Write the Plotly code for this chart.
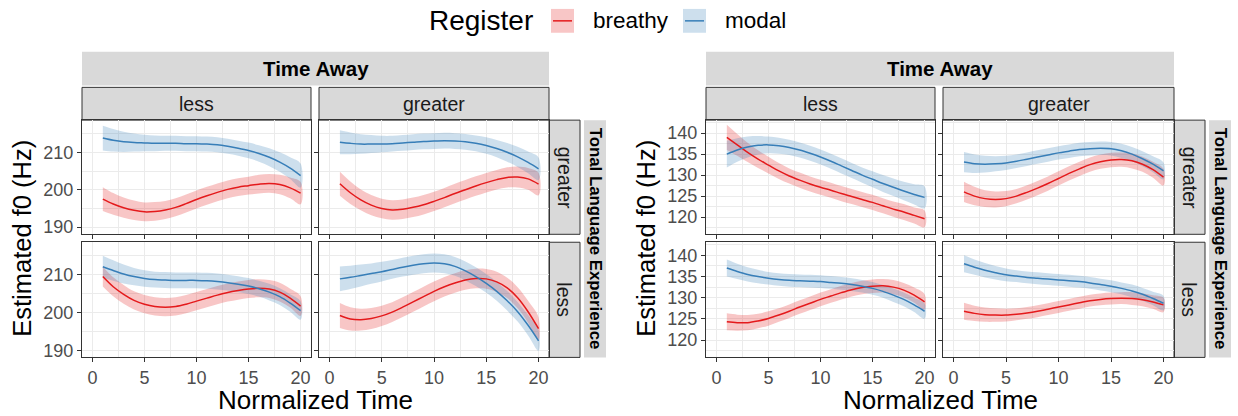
import plotly.graph_objects as go

# ---------------- data ----------------
time = list(range(1, 21))
xticks = [0, 5, 10, 15, 20]
left_yticks = [190, 200, 210]
right_yticks = [120, 125, 130, 135, 140]
col_labels = ["less", "greater"]          # Time Away
row_labels = ["greater", "less"]          # Tonal Language Experience
registers = ["breathy", "modal"]

# Left chart (higher f0)  --- row: TLE greater / less, col: Time Away less / greater
L_gl_breathy = [197.5, 196.2, 195.2, 194.5, 194.1, 194.2, 194.6, 195.3, 196.3, 197.4, 198.4, 199.3, 200.1, 200.7, 201.1, 201.5, 201.7, 201.4, 200.5, 199.1]
L_gl_breathy_se = [3.2, 2.9, 2.7, 2.6, 2.5, 2.5, 2.4, 2.4, 2.4, 2.4, 2.4, 2.4, 2.4, 2.4, 2.4, 2.5, 2.5, 2.6, 2.8, 3.0]
L_gl_modal = [213.8, 213.2, 212.8, 212.6, 212.5, 212.4, 212.4, 212.4, 212.3, 212.3, 212.2, 212.0, 211.6, 211.1, 210.5, 209.7, 208.7, 207.4, 205.8, 203.8]
L_gl_modal_se = [3.3, 3.0, 2.7, 2.4, 2.2, 2.1, 2.0, 2.0, 2.0, 2.0, 2.0, 2.0, 2.0, 2.0, 2.1, 2.2, 2.4, 2.6, 2.9, 3.2]

L_gg_breathy = [201.6, 199.2, 197.3, 195.9, 195.0, 194.6, 194.8, 195.3, 196.0, 196.9, 197.9, 199.0, 200.0, 201.0, 201.9, 202.7, 203.3, 203.4, 202.9, 201.5]
L_gg_breathy_se = [3.2, 3.0, 2.8, 2.7, 2.6, 2.6, 2.6, 2.6, 2.6, 2.6, 2.6, 2.6, 2.6, 2.6, 2.6, 2.6, 2.7, 2.8, 2.9, 3.0]
L_gg_modal = [212.7, 212.4, 212.2, 212.2, 212.2, 212.3, 212.5, 212.7, 212.9, 213.0, 213.1, 213.0, 212.8, 212.4, 211.8, 211.0, 210.0, 208.8, 207.3, 205.6]
L_gg_modal_se = [3.2, 2.9, 2.6, 2.4, 2.2, 2.1, 2.1, 2.1, 2.1, 2.1, 2.1, 2.1, 2.1, 2.1, 2.2, 2.3, 2.5, 2.7, 2.9, 3.0]

L_ll_breathy = [209.5, 206.8, 204.8, 203.2, 202.2, 201.6, 201.4, 201.6, 202.2, 203.0, 203.8, 204.6, 205.3, 205.8, 206.2, 206.4, 206.2, 205.4, 203.8, 201.7]
L_ll_breathy_se = [2.6, 2.5, 2.5, 2.4, 2.4, 2.4, 2.4, 2.4, 2.4, 2.4, 2.4, 2.4, 2.4, 2.4, 2.4, 2.4, 2.4, 2.5, 2.5, 2.6]
L_ll_modal = [212.1, 211.1, 210.2, 209.5, 209.0, 208.7, 208.6, 208.5, 208.5, 208.5, 208.4, 208.2, 207.9, 207.5, 207.0, 206.3, 205.4, 204.2, 202.5, 200.5]
L_ll_modal_se = [2.9, 2.7, 2.5, 2.3, 2.2, 2.1, 2.1, 2.1, 2.1, 2.1, 2.1, 2.1, 2.1, 2.1, 2.1, 2.1, 2.2, 2.2, 2.3, 2.4]

L_lg_breathy = [199.2, 198.3, 198.1, 198.4, 199.1, 200.1, 201.4, 202.8, 204.2, 205.6, 206.8, 207.8, 208.6, 209.0, 208.9, 208.1, 206.5, 203.9, 200.2, 195.7]
L_lg_breathy_se = [3.3, 3.1, 2.9, 2.8, 2.7, 2.6, 2.6, 2.6, 2.6, 2.6, 2.6, 2.6, 2.6, 2.6, 2.6, 2.7, 2.7, 2.8, 2.9, 3.0]
L_lg_modal = [208.9, 209.3, 209.8, 210.3, 210.8, 211.4, 212.0, 212.5, 212.9, 213.1, 212.9, 212.2, 211.0, 209.5, 207.7, 205.6, 203.1, 200.2, 196.6, 192.5]
L_lg_modal_se = [3.3, 3.1, 2.9, 2.7, 2.6, 2.5, 2.5, 2.5, 2.5, 2.5, 2.5, 2.5, 2.5, 2.5, 2.5, 2.5, 2.6, 2.6, 2.7, 2.7]

# Right chart (lower f0)
R_gl_breathy = [139.0, 137.2, 135.4, 133.8, 132.4, 131.0, 129.8, 128.8, 127.9, 127.1, 126.4, 125.6, 124.9, 124.2, 123.5, 122.7, 121.9, 121.2, 120.4, 119.6]
R_gl_breathy_se = [3.0, 2.6, 2.3, 2.1, 2.0, 1.9, 1.8, 1.8, 1.8, 1.8, 1.8, 1.8, 1.8, 1.8, 1.8, 1.8, 1.8, 1.9, 1.9, 2.0]
R_gl_modal = [135.0, 136.0, 136.7, 137.1, 137.2, 137.0, 136.6, 136.0, 135.2, 134.3, 133.3, 132.2, 131.1, 130.0, 129.0, 128.0, 127.1, 126.2, 125.4, 124.7]
R_gl_modal_se = [3.2, 2.8, 2.5, 2.2, 2.0, 1.9, 1.8, 1.8, 1.8, 1.8, 1.8, 1.8, 1.8, 1.8, 1.9, 2.0, 2.1, 2.2, 2.4, 2.6]

R_gg_breathy = [126.0, 125.0, 124.4, 124.2, 124.4, 125.0, 125.9, 126.9, 128.0, 129.2, 130.4, 131.5, 132.5, 133.2, 133.6, 133.7, 133.4, 132.6, 131.3, 129.5]
R_gg_breathy_se = [2.4, 2.2, 2.0, 1.9, 1.8, 1.7, 1.7, 1.7, 1.7, 1.7, 1.7, 1.7, 1.7, 1.7, 1.7, 1.7, 1.8, 1.8, 1.9, 2.0]
R_gg_modal = [133.1, 132.7, 132.6, 132.7, 132.9, 133.3, 133.8, 134.3, 134.8, 135.3, 135.7, 136.1, 136.3, 136.4, 136.3, 135.8, 135.0, 133.9, 132.6, 131.0]
R_gg_modal_se = [2.4, 2.2, 2.0, 1.8, 1.7, 1.6, 1.6, 1.6, 1.6, 1.6, 1.6, 1.6, 1.6, 1.6, 1.6, 1.7, 1.7, 1.8, 1.9, 2.0]

R_ll_breathy = [124.3, 124.1, 124.1, 124.5, 125.1, 125.9, 126.8, 127.8, 128.7, 129.6, 130.4, 131.2, 131.9, 132.4, 132.7, 132.8, 132.5, 131.8, 130.6, 129.0]
R_ll_breathy_se = [2.0, 1.9, 1.8, 1.7, 1.7, 1.6, 1.6, 1.6, 1.6, 1.6, 1.6, 1.6, 1.6, 1.6, 1.6, 1.6, 1.7, 1.7, 1.8, 1.8]
R_ll_modal = [137.0, 136.2, 135.5, 135.0, 134.6, 134.3, 134.1, 134.0, 133.9, 133.8, 133.6, 133.4, 133.1, 132.7, 132.2, 131.5, 130.6, 129.6, 128.3, 126.8]
R_ll_modal_se = [2.0, 1.8, 1.7, 1.6, 1.5, 1.5, 1.5, 1.5, 1.5, 1.5, 1.5, 1.5, 1.5, 1.5, 1.5, 1.5, 1.6, 1.6, 1.7, 1.8]

R_lg_breathy = [126.8, 126.3, 126.0, 125.9, 125.9, 126.1, 126.4, 126.8, 127.3, 127.8, 128.3, 128.8, 129.3, 129.6, 129.8, 129.9, 129.8, 129.5, 129.0, 128.3]
R_lg_breathy_se = [2.0, 1.8, 1.7, 1.6, 1.5, 1.4, 1.4, 1.4, 1.4, 1.4, 1.4, 1.4, 1.4, 1.4, 1.4, 1.4, 1.5, 1.5, 1.6, 1.7]
R_lg_modal = [138.0, 137.2, 136.5, 135.9, 135.4, 135.1, 134.8, 134.6, 134.4, 134.2, 134.0, 133.8, 133.5, 133.1, 132.7, 132.2, 131.6, 130.8, 129.8, 128.7]
R_lg_modal_se = [2.0, 1.8, 1.7, 1.6, 1.5, 1.4, 1.4, 1.4, 1.4, 1.4, 1.4, 1.4, 1.4, 1.4, 1.4, 1.4, 1.5, 1.5, 1.6, 1.7]

# (chart, row, col) -> series
panels = [
    ("L", 0, 0, L_gl_breathy, L_gl_breathy_se, L_gl_modal, L_gl_modal_se),
    ("L", 0, 1, L_gg_breathy, L_gg_breathy_se, L_gg_modal, L_gg_modal_se),
    ("L", 1, 0, L_ll_breathy, L_ll_breathy_se, L_ll_modal, L_ll_modal_se),
    ("L", 1, 1, L_lg_breathy, L_lg_breathy_se, L_lg_modal, L_lg_modal_se),
    ("R", 0, 0, R_gl_breathy, R_gl_breathy_se, R_gl_modal, R_gl_modal_se),
    ("R", 0, 1, R_gg_breathy, R_gg_breathy_se, R_gg_modal, R_gg_modal_se),
    ("R", 1, 0, R_ll_breathy, R_ll_breathy_se, R_ll_modal, R_ll_modal_se),
    ("R", 1, 1, R_lg_breathy, R_lg_breathy_se, R_lg_modal, R_lg_modal_se),
]

# ---------------- style / layout ----------------
W, H = 1238, 416
FONT = "Liberation Sans, Arial, Helvetica, sans-serif"
RED, BLUE = "#E41A1C", "#377EB8"
RED_F, BLUE_F = "rgba(228,26,28,0.25)", "rgba(55,126,184,0.25)"
STRIP = "#d9d9d9"
DARK = "#333333"
GRID = "#ebebeb"
TICKF = 18

col_px = {"L": [(82, 311), (319, 549)], "R": [(706, 935), (943, 1174)]}
row_px = [(121, 236), (244, 360)]
yrange = {"L": [188.1, 218.6], "R": [115.9, 143.1]}
ydt = {"L": (10, 5), "R": (5, 2.5)}
yticks = {"L": left_yticks, "R": right_yticks}

def px(x):
    return x / W

def py(y):
    return 1 - y / H

fig = go.Figure()
layout = dict(width=W, height=H, margin=dict(l=0, r=0, t=0, b=0),
              paper_bgcolor="white", plot_bgcolor="white", showlegend=False,
              font=dict(family=FONT))
shapes, annos = [], []

for i, (chart, r, c, yb, sb, ym, sm) in enumerate(panels):
    n = i + 1
    xa, ya = f"x{n}", f"y{n}"
    # ribbons
    for yv, sv, fc in ((yb, sb, RED_F), (ym, sm, BLUE_F)):
        up = [v + s for v, s in zip(yv, sv)]
        lo = [v - s for v, s in zip(yv, sv)]
        fig.add_trace(go.Scatter(x=time + time[::-1], y=up + lo[::-1], fill="toself",
                                 fillcolor=fc, line=dict(width=0, shape="spline"),
                                 mode="lines", hoverinfo="skip", xaxis=xa, yaxis=ya))
    for yv, lc, name in ((yb, RED, "breathy"), (ym, BLUE, "modal")):
        fig.add_trace(go.Scatter(x=time, y=yv, mode="lines", name=name,
                                 line=dict(color=lc, width=1.5, shape="spline"),
                                 xaxis=xa, yaxis=ya))
    x0, x1 = col_px[chart][c]
    y0, y1 = row_px[r]
    sfx = "" if n == 1 else str(n)
    layout["xaxis" + sfx] = dict(
        domain=[px(x0), px(x1)], anchor=ya, range=[-1, 21], tickvals=xticks,
        showticklabels=(r == 1), ticks="outside", ticklen=4, tickcolor=DARK,
        tickfont=dict(size=TICKF, color="#4d4d4d"), showline=True, mirror=True,
        linecolor=DARK, linewidth=1, showgrid=True, gridcolor=GRID, gridwidth=1.1,
        minor=dict(dtick=2.5, tick0=0, showgrid=True, gridcolor=GRID, gridwidth=0.6),
        zeroline=False, fixedrange=True)
    layout["yaxis" + sfx] = dict(
        domain=[py(y1), py(y0)], anchor=xa, range=yrange[chart], tickvals=yticks[chart],
        showticklabels=(c == 0), ticks="outside", ticklen=4, tickcolor=DARK,
        tickfont=dict(size=TICKF, color="#4d4d4d"), showline=True, mirror=True,
        linecolor=DARK, linewidth=1, showgrid=True, gridcolor=GRID, gridwidth=1.1,
        minor=dict(dtick=ydt[chart][1], tick0=0, showgrid=True, gridcolor=GRID, gridwidth=0.6),
        zeroline=False, fixedrange=True)

def rect(x0, y0, x1, y1, border=True):
    shapes.append(dict(type="rect", xref="paper", yref="paper",
                       x0=px(x0), x1=px(x1), y0=py(y1), y1=py(y0),
                       fillcolor=STRIP, layer="below",
                       line=dict(color=DARK if border else STRIP, width=1 if border else 0)))

def text(x, y, s, size, angle=0, bold=False, color="#1a1a1a", xanchor="center"):
    annos.append(dict(xref="paper", yref="paper", x=px(x), y=py(y), text=f"<b>{s}</b>" if bold else s,
                      showarrow=False, textangle=angle, xanchor=xanchor, yanchor="middle",
                      font=dict(size=size, color=color, family=FONT)))

for chart in ("L", "R"):
    cols = col_px[chart]
    # outer "Time Away" strip
    rect(cols[0][0], 52, cols[1][1], 86, border=False)
    text((cols[0][0] + cols[1][1]) / 2, 69, "Time Away", 20.5, bold=True, color="black")
    # column strips
    for (a, b), lab in zip(cols, col_labels):
        rect(a, 88, b, 121)
        text((a + b) / 2, 104.5, lab, 19.5, color="#1a1a1a")
    # row strips
    sx0 = cols[1][1]
    for (a, b), lab in zip(row_px, row_labels):
        rect(sx0, a, sx0 + 31, b)
        text(sx0 + 15.5, (a + b) / 2, lab, 19.5, angle=90)
    # outer tonal strip
    rect(sx0 + 35, 121, sx0 + 57, 360, border=False)
    text(sx0 + 46, 240.5, "Tonal Language Experience", 16.8, angle=90, bold=True, color="black")
    # axis titles
    text((cols[0][0] + cols[1][1]) / 2, 402.5, "Normalized Time", 26, color="black")
    text(cols[0][0] - 60, 240.5, "Estimated f0 (Hz)", 25.5, angle=-90, color="black")

# legend (drawn manually to match ggplot keys)
text(481, 21, "Register", 28, color="black")
for kx, fc, lc, lab in ((551, RED_F, RED, registers[0]), (683, BLUE_F, BLUE, registers[1])):
    shapes.append(dict(type="rect", xref="paper", yref="paper", x0=px(kx), x1=px(kx + 23),
                       y0=py(33), y1=py(9), fillcolor=fc, line=dict(width=0)))
    shapes.append(dict(type="line", xref="paper", yref="paper", x0=px(kx + 2), x1=px(kx + 21),
                       y0=py(21), y1=py(21), line=dict(color=lc, width=1.5)))
    text(kx + 40, 21, lab, 22.5, color="black", xanchor="left")

layout["shapes"] = shapes
layout["annotations"] = annos
fig.update_layout(**layout)
fig.write_html("out.html")
